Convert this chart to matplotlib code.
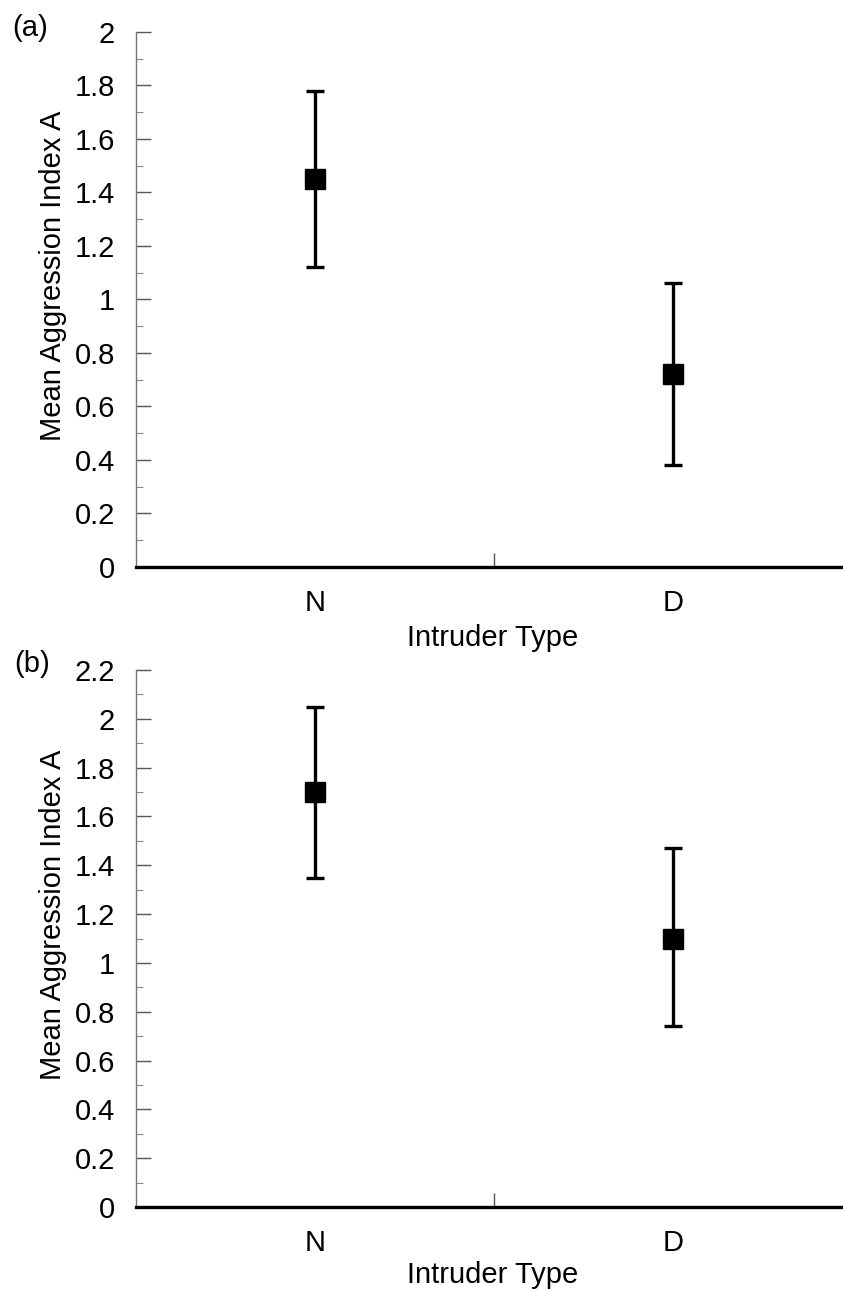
import matplotlib
matplotlib.use("Agg")
import matplotlib.pyplot as plt
from matplotlib.ticker import MultipleLocator, FuncFormatter

plt.rcParams["font.family"] = ["Liberation Sans", "DejaVu Sans"]

intruder_types = ["N", "D"]

# panel (a)
a_means = [1.45, 0.72]
a_lower = [1.12, 0.38]
a_upper = [1.78, 1.06]

# panel (b)
b_means = [1.70, 1.10]
b_lower = [1.35, 0.74]
b_upper = [2.05, 1.47]

FS = 21


def draw_panel(ax, means, lower, upper, ymax, xlab_y):
    xs = range(len(intruder_types))
    yerr = [[m - lo for m, lo in zip(means, lower)],
            [hi - m for m, hi in zip(means, upper)]]
    ax.errorbar(xs, means, yerr=yerr, fmt="s", color="black", ms=14,
                elinewidth=2.4, capsize=6.5, capthick=2.4, zorder=5)

    ax.set_xlim(-0.5, 1.5)
    ax.set_ylim(0, ymax)
    ax.spines["top"].set_visible(False)
    ax.spines["right"].set_visible(False)
    ax.spines["left"].set_color("#777777")
    ax.spines["left"].set_linewidth(1.0)
    ax.spines["bottom"].set_color("black")
    ax.spines["bottom"].set_linewidth(2.4)

    ax.yaxis.set_major_locator(MultipleLocator(0.2))
    ax.yaxis.set_minor_locator(MultipleLocator(0.1))
    ax.yaxis.set_major_formatter(FuncFormatter(lambda v, p: f"{v:.1f}".rstrip("0").rstrip(".")))
    ax.tick_params(axis="y", which="major", direction="in", length=11, width=1.0,
                   color="#555555", labelsize=FS, pad=15)
    ax.tick_params(axis="y", which="minor", direction="in", length=5, width=0.8,
                   color="#888888")

    ax.set_xticks(list(xs), intruder_types)
    ax.set_xticks([0.5], minor=True)
    ax.tick_params(axis="x", which="major", length=0, labelsize=FS, pad=16)
    ax.tick_params(axis="x", which="minor", direction="in", length=10, width=1.0,
                   color="#555555")

    ax.set_ylabel("Mean Aggression Index A", fontsize=FS)
    ax.yaxis.set_label_coords(-0.096, 0.545)
    ax.set_xlabel("Intruder Type", fontsize=FS)
    ax.xaxis.set_label_coords(0.498, xlab_y)


fig = plt.figure(figsize=(8.43, 12.90), dpi=100)
ax_a = fig.add_axes([0.1613, 0.5605, 0.849, 0.4147])
ax_b = fig.add_axes([0.1613, 0.0643, 0.849, 0.4163])

draw_panel(ax_a, a_means, a_lower, a_upper, 2.0, -0.106)
draw_panel(ax_b, b_means, b_lower, b_upper, 2.2, -0.101)

fig.text(30 / 843, 1 - 28 / 1290, "(a)", fontsize=FS, ha="center", va="center")
fig.text(32 / 843, 1 - 664 / 1290, "(b)", fontsize=FS, ha="center", va="center")

fig.savefig("out.png", dpi=100, facecolor="white")
